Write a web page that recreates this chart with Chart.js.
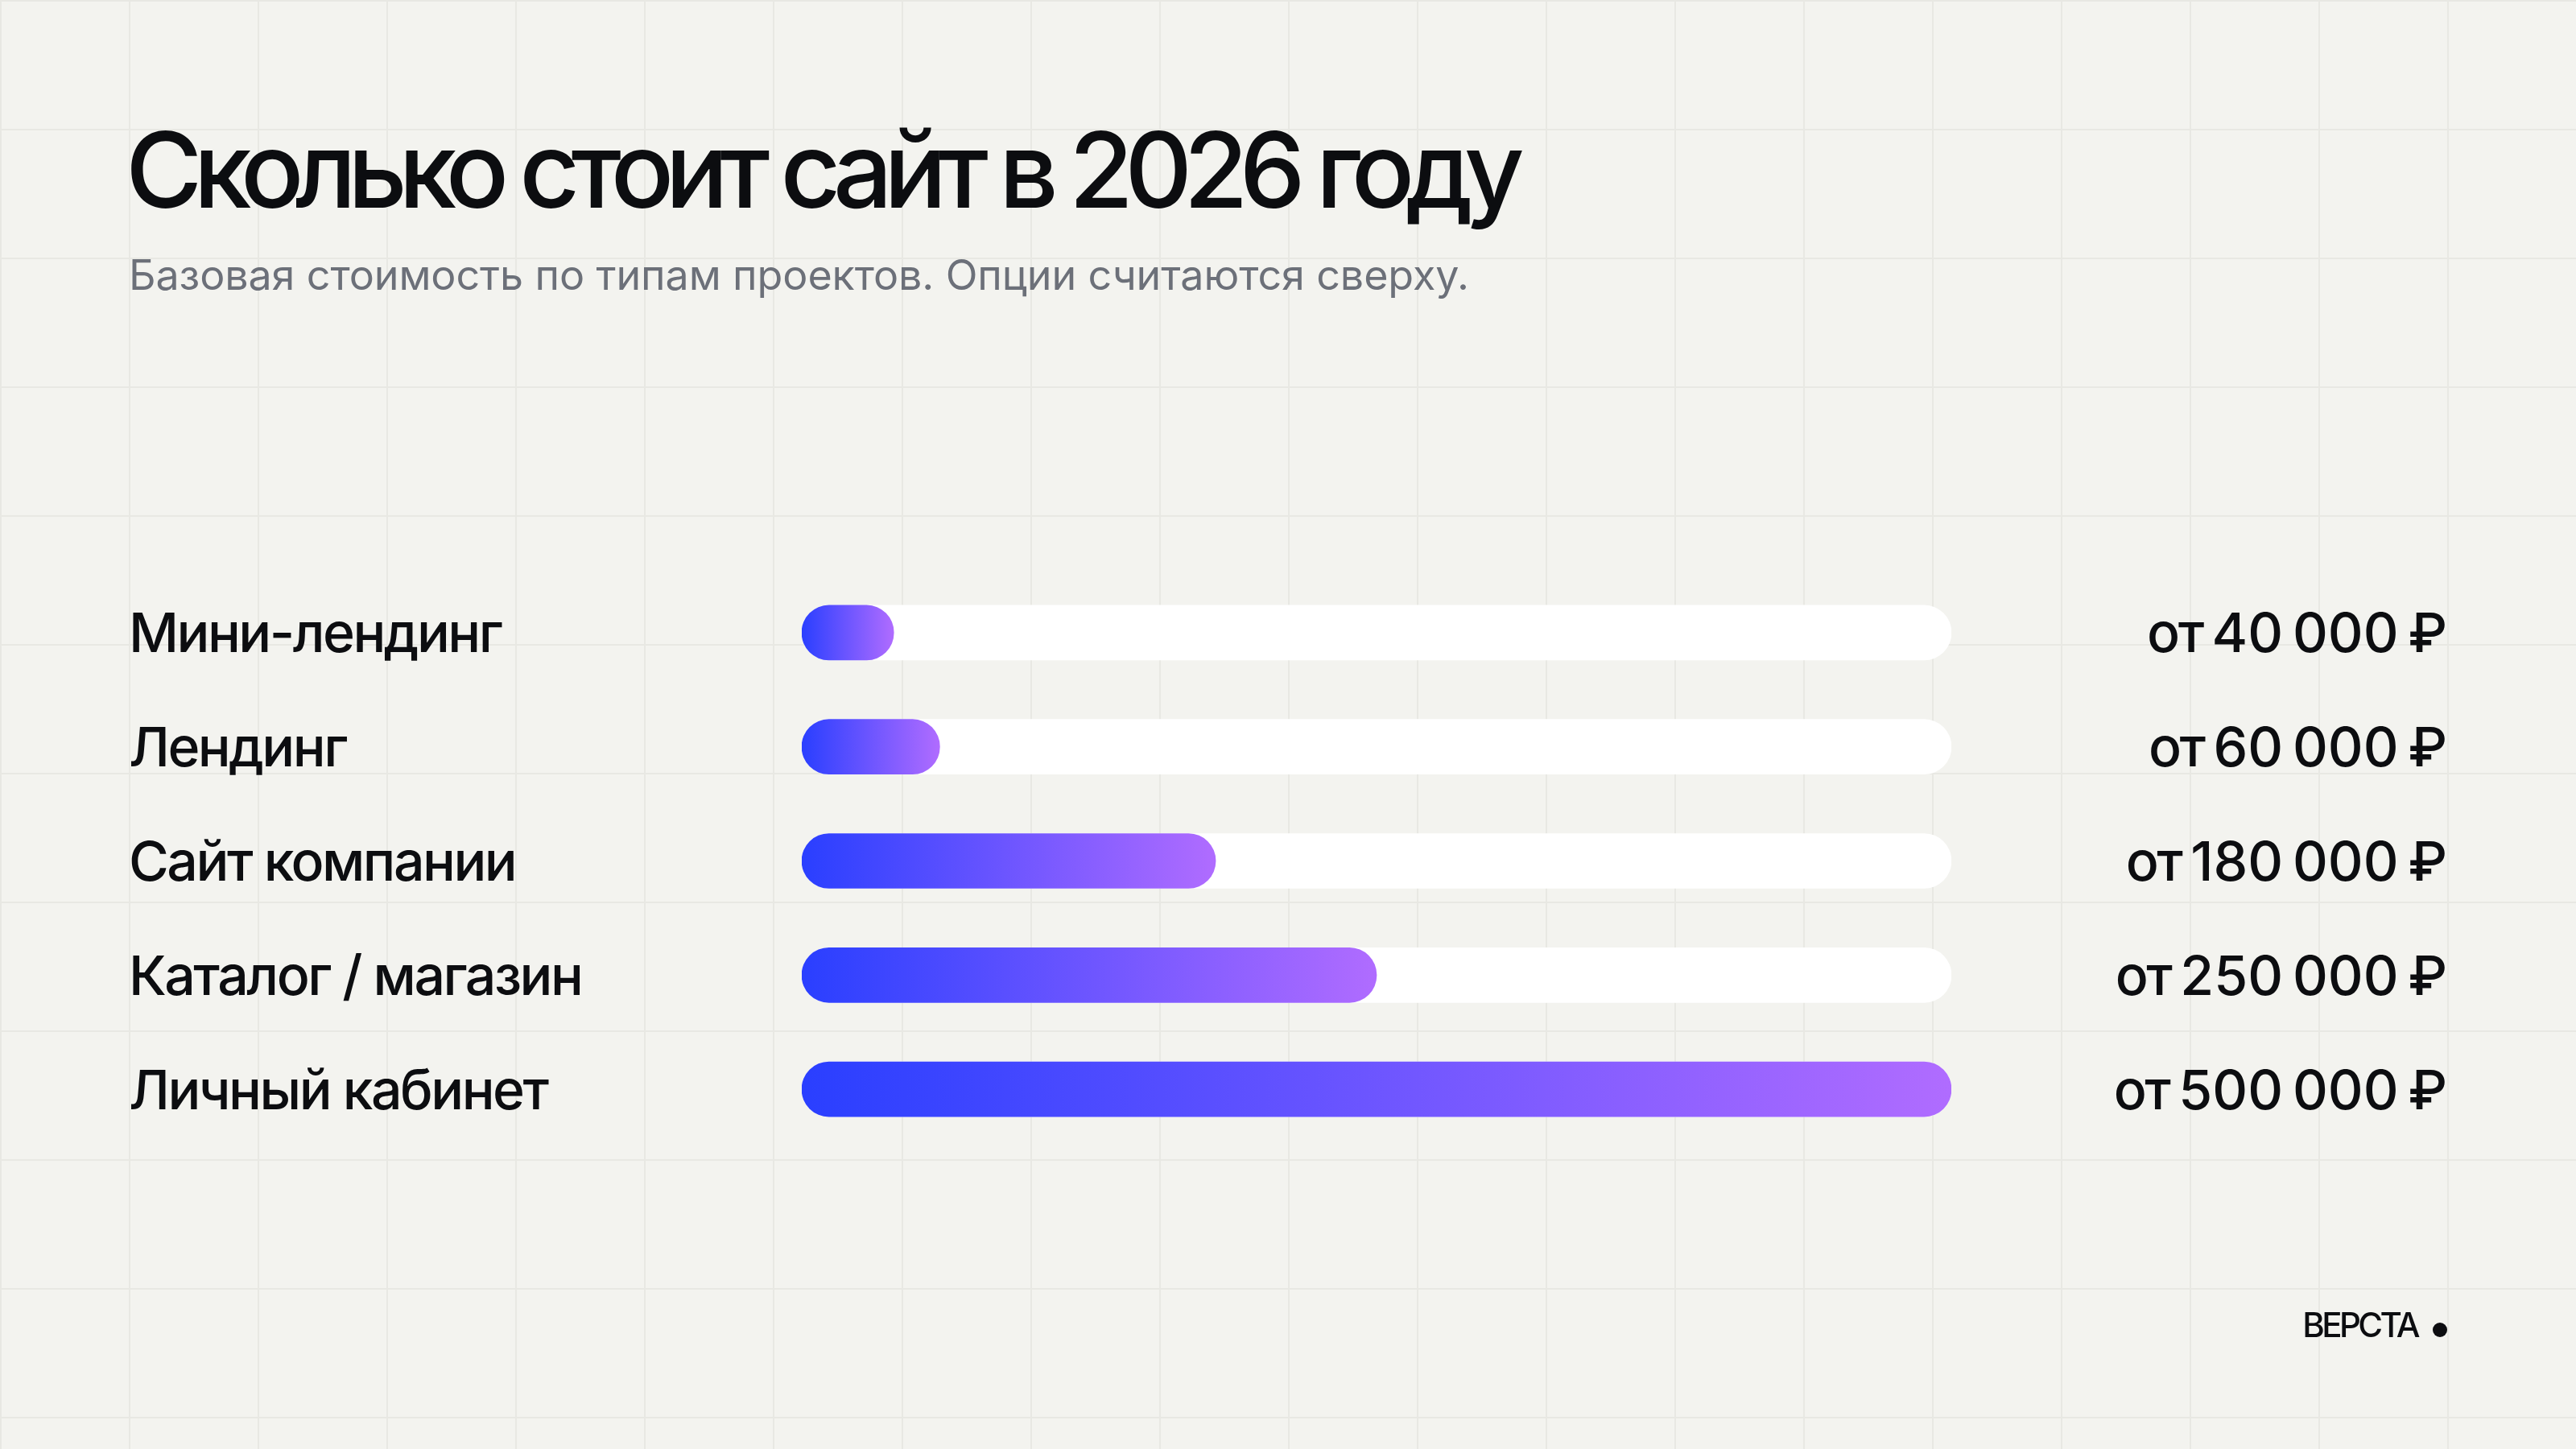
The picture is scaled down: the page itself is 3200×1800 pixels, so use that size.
<!DOCTYPE html>
<html lang="ru">
<head>
<meta charset="utf-8">
<title>Сколько стоит сайт в 2026 году</title>
<script src="https://cdn.jsdelivr.net/npm/chart.js@4.4.1/dist/chart.umd.min.js"></script>
<style>
  html, body {
    margin: 0;
    padding: 0;
  }
  body {
    width: 3200px;
    height: 1800px;
    position: relative;
    overflow: hidden;
    font-family: Inter, "Noto Sans", sans-serif;
    color: #0c0d10;
    background-color: #f3f3ef;
    background-image:
      linear-gradient(to right, #e8e8e3 2px, transparent 2px),
      linear-gradient(to bottom, #e8e8e3 2px, transparent 2px);
    background-size: 160px 160px;
    background-position: 160px 160px;
  }
  h1 {
    position: absolute;
    left: 156px;
    top: 146px;
    margin: 0;
    font-size: 130px;
    line-height: 1;
    font-weight: 500;
    letter-spacing: -0.083em;
    white-space: nowrap;
  }
  .subtitle {
    position: absolute;
    left: 160px;
    top: 316px;
    margin: 0;
    font-size: 52px;
    line-height: 1;
    font-weight: 400;
    color: #6c7079;
    letter-spacing: -0.002em;
    white-space: nowrap;
  }
  #chart {
    position: absolute;
    left: 0;
    top: 0;
  }
  .brand {
    position: absolute;
    right: 197px;
    top: 1625px;
    font-size: 42px;
    line-height: 1;
    font-weight: 500;
    letter-spacing: -0.085em;
  }
  .dot {
    position: absolute;
    left: 3022px;
    top: 1643px;
    width: 18px;
    height: 18px;
    border-radius: 50%;
    background: #0c0d10;
  }
</style>
</head>
<body>
<h1>Сколько стоит сайт в 2026 году</h1>
<p class="subtitle">Базовая стоимость по типам проектов. Опции считаются сверху.</p>
<canvas id="chart" width="3200" height="1800"></canvas>
<div class="brand">ВЕРСТА</div>
<div class="dot"></div>

<script>
const categories = ['Мини-лендинг', 'Лендинг', 'Сайт компании', 'Каталог / магазин', 'Личный кабинет']
const prices = [40000, 60000, 180000, 250000, 500000]
const scaleMax = 500000

const fillStart = '#2a3fff'
const fillEnd = '#b06cff'

// "от 40 000 ₽" - narrow no-break spaces, like the original
const nb = '\u202f'
const priceLabels = prices.map(p => 'от' + nb + String(p).replace(/\B(?=(\d{3})+(?!\d))/g, nb) + nb + '₽')
const trackValues = categories.map(() => scaleMax)

const labelFont = { family: 'Inter', size: 68, weight: '500' }

const barGradient = (context) => {
    const chart = context.chart
    const { ctx, chartArea, scales } = chart
    if (!chartArea || context.type !== 'data') return fillStart
    const x0 = scales.x.getPixelForValue(0)
    const x1 = scales.x.getPixelForValue(context.raw)
    const g = ctx.createLinearGradient(x0, 0, x1, 0)
    g.addColorStop(0, fillStart)
    g.addColorStop(1, fillEnd)
    return g
}

// tighter tracking for the canvas labels
const tightText = {
    id: 'tightText',
    beforeLayout(chart) { chart.ctx.letterSpacing = '-2.5px' },
    beforeDraw(chart) { chart.ctx.letterSpacing = '-2.5px' }
}

new Chart(document.getElementById('chart'), {
    type: 'bar',
    data: {
        labels: categories,
        datasets: [
            {
                label: 'Стоимость',
                data: prices,
                backgroundColor: barGradient,
                order: 1
            },
            {
                label: 'track',
                data: trackValues,
                backgroundColor: '#ffffff',
                order: 2
            }
        ]
    },
    options: {
        indexAxis: 'y',
        responsive: false,
        devicePixelRatio: 1,
        animation: false,
        events: [],
        layout: {
            padding: { left: 160, right: 160, top: 715, bottom: 376 }
        },
        datasets: {
            bar: {
                grouped: false,
                barThickness: 68,
                borderRadius: 34,
                borderSkipped: false
            }
        },
        scales: {
            x: {
                display: false,
                min: 0,
                max: scaleMax
            },
            y: {
                position: 'left',
                offset: true,
                grid: { display: false },
                border: { display: false },
                ticks: {
                    crossAlign: 'far',
                    color: '#0c0d10',
                    font: labelFont,
                    padding: 0,
                    labelOffset: 4
                },
                afterFit: (scale) => { scale.width = 836 }
            },
            y2: {
                type: 'category',
                labels: priceLabels,
                position: 'right',
                offset: true,
                grid: { display: false },
                border: { display: false },
                ticks: {
                    crossAlign: 'far',
                    color: '#0c0d10',
                    font: labelFont,
                    padding: 0,
                    labelOffset: 4
                },
                afterFit: (scale) => { scale.width = 616 }
            }
        },
        plugins: {
            legend: { display: false },
            tooltip: { enabled: false }
        }
    },
    plugins: [tightText]
})
</script>
</body>
</html>
